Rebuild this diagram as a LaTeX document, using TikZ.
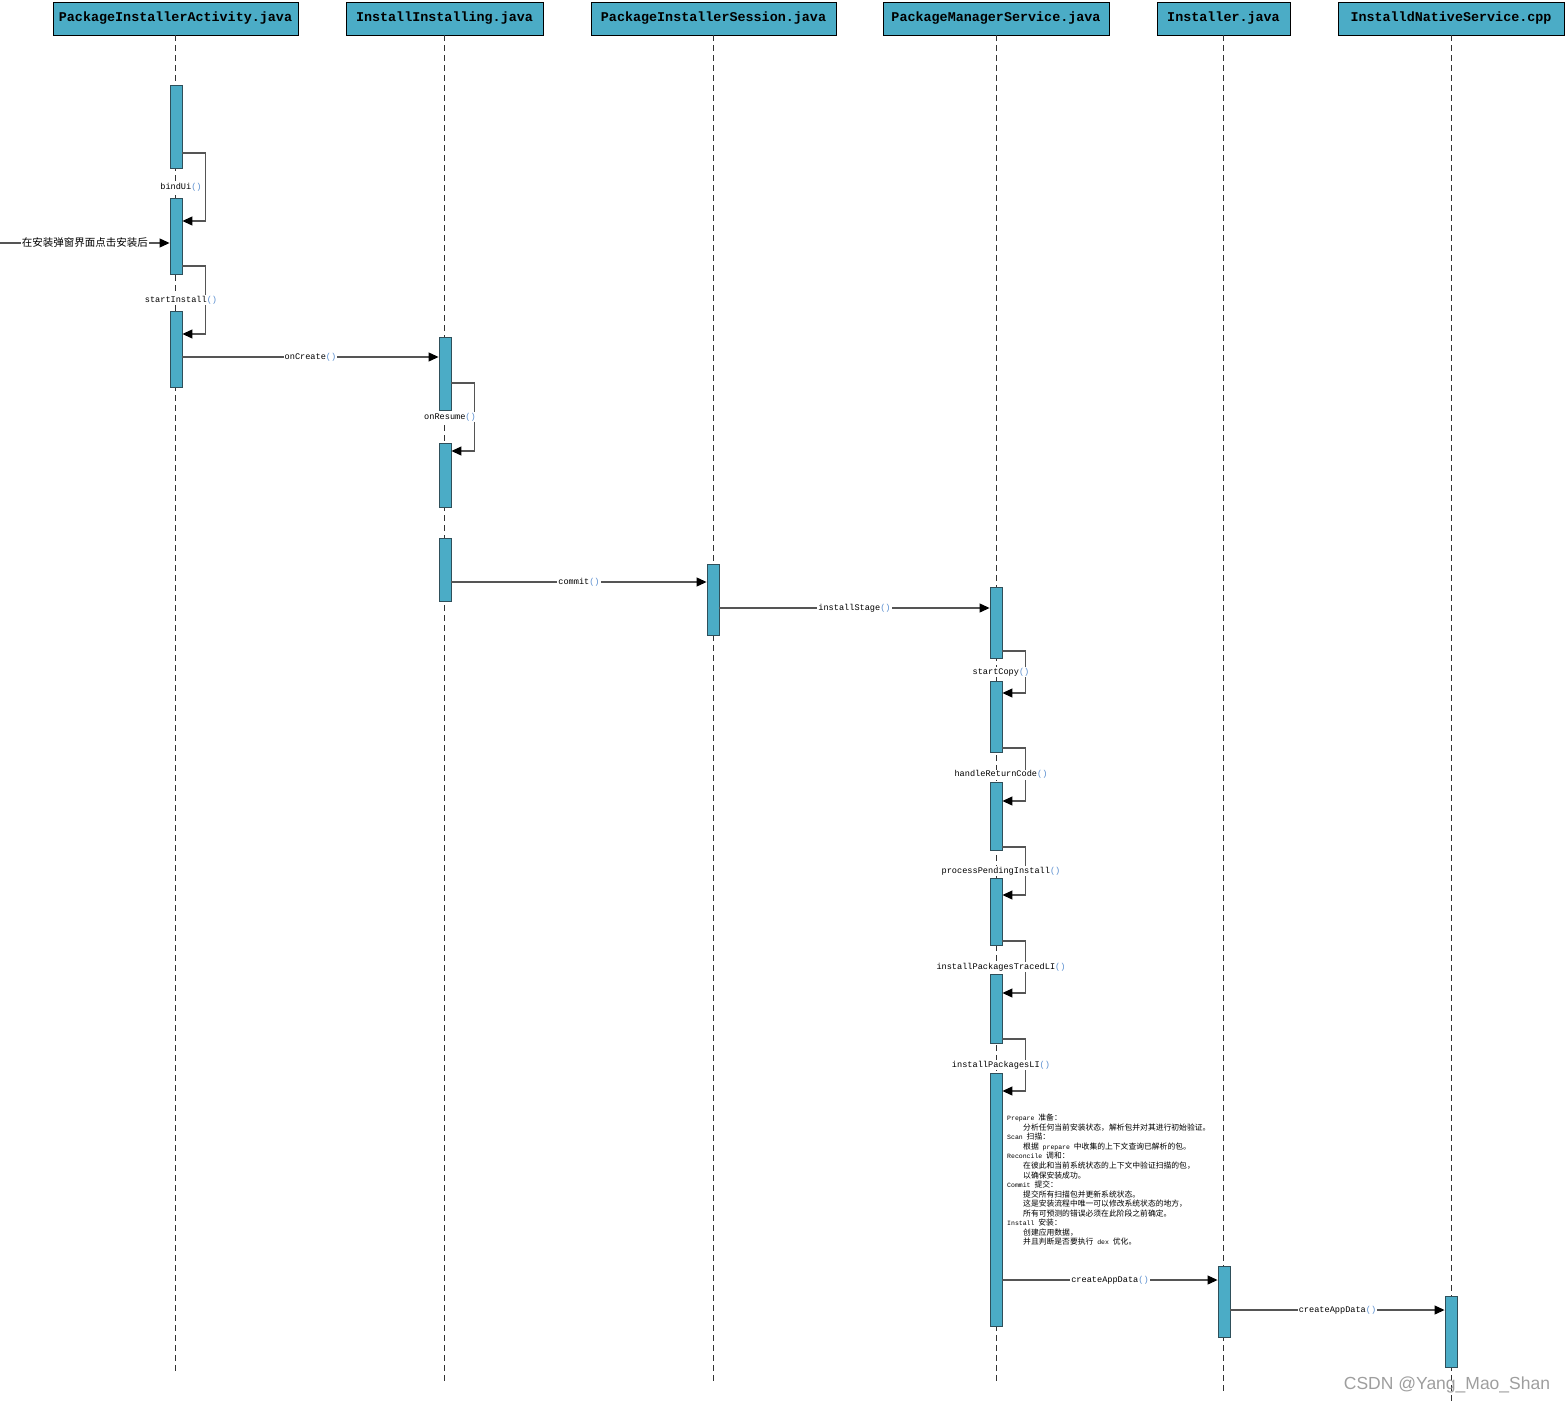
\documentclass[tikz,border=0pt]{standalone}
\usepackage{fontspec}
\setmainfont{Liberation Serif}
\setmonofont{Liberation Mono}
\newfontfamily\cjk{Noto Sans CJK SC}
\newfontfamily\wmfont{Liberation Sans}
\usetikzlibrary{arrows.meta,calc}

\definecolor{hdrblue}{HTML}{4BACC6}
\definecolor{barline}{HTML}{2F4F5A}
\definecolor{msggray}{HTML}{555555}
\definecolor{lifegray}{HTML}{333333}
\definecolor{parenblue}{HTML}{5B8FD0}

\newcommand\zh[1]{{\cjk\fontsize{7.8pt}{9.54pt}\selectfont#1}}
\newcommand\mcall[1]{#1\textcolor{parenblue}{()}}
% activation bar: name, lifeline x, top y, bottom y
\newcommand\actbar[4]{\node[bar,anchor=north,minimum height={(#4-#3)*1pt}] (#1) at (#2,#3) {};}
% call to itself: from bar, to bar, y out, y back, label
\newcommand\selfcall[5]{%
\draw[msg] (#1.east |- 0,#3) -- ($(#1.east |- 0,#3)+(23,0)$) -- ($(#1.east |- 0,#4)+(23,0)$) -- (#2.east |- 0,#4);
\path (#1.south |- 0,{(#3+#4)/2}) node[lbl,xshift=5pt] {#5};}

\begin{document}
\begin{tikzpicture}[x=1pt,y=-1pt,
  hdr/.style={draw=black,fill=hdrblue,minimum height=33pt,inner sep=0pt,line width=0.8pt,
    font=\ttfamily\bfseries\fontsize{13.4pt}{15pt}\selectfont},
  life/.style={draw=lifegray,line width=0.9pt,dash pattern=on 6pt off 4pt},
  bar/.style={draw=barline,fill=hdrblue,minimum width=12pt,inner sep=0pt,line width=0.9pt},
  msg/.style={draw=msggray,line width=1.1pt,-{Triangle[length=10pt,width=9pt,black]}},
  lbl/.style={fill=white,inner sep=1pt,text=black,font=\ttfamily\fontsize{8.6pt}{10pt}\selectfont},
  note/.style={align=left,inner sep=0pt,font=\ttfamily\fontsize{6.5pt}{9.54pt}\selectfont},
  wm/.style={text=black!38,font=\wmfont\fontsize{17.5pt}{20pt}\selectfont}]
\useasboundingbox (0,0) rectangle (1566,1405);

% headers
\node[hdr,minimum width=245pt] (pia) at (175.5,18.5) {PackageInstallerActivity.java};
\node[hdr,minimum width=197pt] (ii) at (444.5,18.5) {InstallInstalling.java};
\node[hdr,minimum width=245pt] (pis) at (713.5,18.5) {PackageInstallerSession.java};
\node[hdr,minimum width=226pt] (pms) at (996,18.5) {PackageManagerService.java};
\node[hdr,minimum width=133pt] (inst) at (1223.5,18.5) {Installer.java};
\node[hdr,minimum width=226pt] (ind) at (1451,18.5) {InstalldNativeService.cpp};

% lifelines
\draw[life] (pia.south) -- (pia |- 0,1373);
\draw[life] (ii.south) -- (ii |- 0,1385);
\draw[life] (pis.south) -- (pis |- 0,1385);
\draw[life] (pms.south) -- (pms |- 0,1385);
\draw[life] (inst.south) -- (inst |- 0,1395);
\draw[life] (ind.south) -- (ind |- 0,1405);

% activation bars
\actbar{a1}{176}{85}{168}
\actbar{a2}{176}{198}{274}
\actbar{a3}{176}{311}{387}
\actbar{b1}{445}{337}{410}
\actbar{b2}{445}{443}{507}
\actbar{b3}{445}{538}{601}
\actbar{c1}{713}{564}{635}
\actbar{d1}{996}{587}{658}
\actbar{d2}{996}{681}{752}
\actbar{d3}{996}{782}{850}
\actbar{d4}{996}{878}{945}
\actbar{d5}{996}{974}{1043}
\actbar{d6}{996}{1073}{1326}
\actbar{e1}{1224}{1266}{1337}
\actbar{f1}{1451}{1296}{1367}

% entry
\coordinate (click) at (0,243);
\draw[msg] (click) -- node[lbl,font=\cjk\fontsize{10.5pt}{12pt}\selectfont] {在安装弹窗界面点击安装后} (a2.west |- click);

% calls
\selfcall{a1}{a2}{153}{221}{\mcall{bindUi}}
\selfcall{a2}{a3}{266}{334}{\mcall{startInstall}}
\draw[msg] (a3.east |- 0,357) -- node[lbl] {\mcall{onCreate}} (b1.west |- 0,357);
\selfcall{b1}{b2}{383}{451}{\mcall{onResume}}
\draw[msg] (b3.east |- 0,582) -- node[lbl] {\mcall{commit}} (c1.west |- 0,582);
\draw[msg] (c1.east |- 0,608) -- node[lbl] {\mcall{installStage}} (d1.west |- 0,608);
\selfcall{d1}{d2}{651}{693}{\mcall{startCopy}}
\selfcall{d2}{d3}{748}{801}{\mcall{handleReturnCode}}
\selfcall{d3}{d4}{847}{895}{\mcall{processPendingInstall}}
\selfcall{d4}{d5}{941}{993}{\mcall{installPackagesTracedLI}}
\selfcall{d5}{d6}{1039}{1091}{\mcall{installPackagesLI}}
\draw[msg] (d6.east |- 0,1280) -- node[lbl] {\mcall{createAppData}} (e1.west |- 0,1280);
\draw[msg] (e1.east |- 0,1310) -- node[lbl] {\mcall{createAppData}} (f1.west |- 0,1310);

% install steps
\node[note,anchor=north west] (steps) at (1007,1114) {%
Prepare \zh{准备：}\\
\hspace*{16pt}\zh{分析任何当前安装状态，解析包并对其进行初始验证。}\\
Scan \zh{扫描：}\\
\hspace*{16pt}\zh{根据} prepare \zh{中收集的上下文查询已解析的包。}\\
Reconcile \zh{调和：}\\
\hspace*{16pt}\zh{在彼此和当前系统状态的上下文中验证扫描的包，}\\
\hspace*{16pt}\zh{以确保安装成功。}\\
Commit \zh{提交：}\\
\hspace*{16pt}\zh{提交所有扫描包并更新系统状态。}\\
\hspace*{16pt}\zh{这是安装流程中唯一可以修改系统状态的地方，}\\
\hspace*{16pt}\zh{所有可预测的错误必须在此阶段之前确定。}\\
Install \zh{安装：}\\
\hspace*{16pt}\zh{创建应用数据，}\\
\hspace*{16pt}\zh{并且判断是否要执行} dex \zh{优化。}};

\node[wm] (mark) at (1447,1385) {CSDN @Yang\_Mao\_Shan};
\end{tikzpicture}
\end{document}
